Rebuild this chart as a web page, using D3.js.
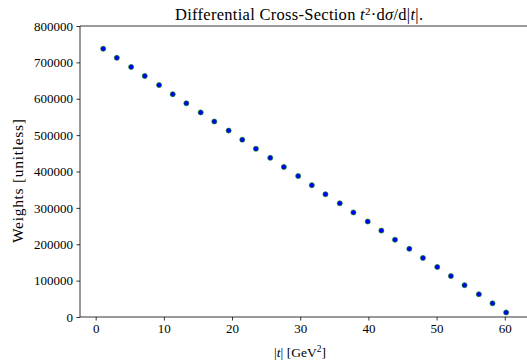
<!DOCTYPE html>
<html>
<head>
<meta charset="utf-8">
<script src="https://cdn.jsdelivr.net/npm/d3@7"></script>
<style>
  body { margin: 0; background: #fff; }
  svg text { font-family: "Liberation Serif", "DejaVu Serif", serif; fill: #000; }
</style>
</head>
<body>
<svg id="canvas" width="527" height="363"></svg>
<script>
// bin centres |t| (GeV^2) and weights
let tValues = [1.1, 3.1, 5.2, 7.2, 9.3, 11.3, 13.3, 15.4, 17.4, 19.5,
               21.5, 23.5, 25.6, 27.6, 29.7, 31.7, 33.7, 35.8, 37.8, 39.9,
               41.9, 43.9, 46.0, 48.0, 50.1, 52.1, 54.1, 56.2, 58.2, 60.2]
let weights = [737500, 712500, 687500, 662500, 637500, 612500, 587500, 562500, 537500, 512500,
               487500, 462500, 437500, 412500, 387500, 362500, 337500, 312500, 287500, 262500,
               237500, 212500, 187500, 162500, 137500, 112500, 87500, 62500, 37500, 12500]
let xTicks = [0, 10, 20, 30, 40, 50, 60]
let yTicks = [0, 100000, 200000, 300000, 400000, 500000, 600000, 700000, 800000]

let svg = d3.select('#canvas')

let plotLeft = 80, plotRight = 530, plotTop = 26, plotBottom = 317

let xScale = d3.scaleLinear().domain([-2.3, 63.7]).range([plotLeft, plotRight])
let yScale = d3.scaleLinear().domain([0, 800000]).range([plotBottom, plotTop])

// axes
let xAxis = d3.axisBottom(xScale).tickValues(xTicks).tickSize(3.5).tickPadding(3.5)
let yAxis = d3.axisLeft(yScale).tickValues(yTicks).tickSize(3.5).tickPadding(3.5)
    .tickFormat(d3.format('d'))

svg.append('g').attr('transform', 'translate(0,' + plotBottom + ')').call(xAxis)
svg.append('g').attr('transform', 'translate(' + plotLeft + ',0)').call(yAxis)

svg.selectAll('.domain').remove()
svg.selectAll('.tick line').attr('stroke', '#000').attr('stroke-width', 0.8)
svg.selectAll('.tick text').style('font-size', '13px')

// frame
svg.append('line').attr('x1', plotLeft).attr('x2', plotLeft).attr('y1', plotTop).attr('y2', plotBottom)
    .attr('stroke', '#000').attr('stroke-width', 0.8)
svg.append('line').attr('x1', plotLeft).attr('x2', plotRight).attr('y1', plotBottom).attr('y2', plotBottom)
    .attr('stroke', '#000').attr('stroke-width', 0.8)
svg.append('line').attr('x1', plotLeft).attr('x2', plotRight).attr('y1', plotTop).attr('y2', plotTop)
    .attr('stroke', '#000').attr('stroke-width', 0.8)

// points
svg.append('g')
    .selectAll('circle')
    .data(tValues)
    .enter()
    .append('circle')
    .attr('cx', (d) => xScale(d))
    .attr('cy', (d, i) => yScale(weights[i]))
    .attr('r', 2.5)
    .attr('fill', '#0000ff')
    .attr('stroke', '#008000')
    .attr('stroke-width', 0.7)

// title
let title = svg.append('text')
    .attr('x', 299)
    .attr('y', 20)
    .attr('text-anchor', 'middle')
    .attr('textLength', 248)
    .attr('lengthAdjust', 'spacing')
    .style('font-size', '16.5px')
title.append('tspan').text('Differential Cross-Section ')
title.append('tspan').style('font-style', 'italic').text('t')
title.append('tspan').attr('dy', -5).style('font-size', '11px').text('2')
title.append('tspan').attr('dy', 5).text('\u00b7d')
title.append('tspan').style('font-style', 'italic').text('\u03c3')
title.append('tspan').text('/d|')
title.append('tspan').style('font-style', 'italic').text('t')
title.append('tspan').text('|.')

// x label
let xLabel = svg.append('text')
    .attr('x', 300)
    .attr('y', 357)
    .attr('text-anchor', 'middle')
    .style('font-size', '13.5px')
xLabel.append('tspan').text('|')
xLabel.append('tspan').style('font-style', 'italic').text('t')
xLabel.append('tspan').text('| [GeV')
xLabel.append('tspan').attr('dy', -5).style('font-size', '9.5px').text('2')
xLabel.append('tspan').attr('dy', 5).text(']')

// y label
svg.append('text')
    .attr('transform', 'translate(23,181) rotate(-90)')
    .attr('text-anchor', 'middle')
    .attr('textLength', 124)
    .attr('lengthAdjust', 'spacing')
    .style('font-size', '15.5px')
    .text('Weights [unitless]')
</script>
</body>
</html>
